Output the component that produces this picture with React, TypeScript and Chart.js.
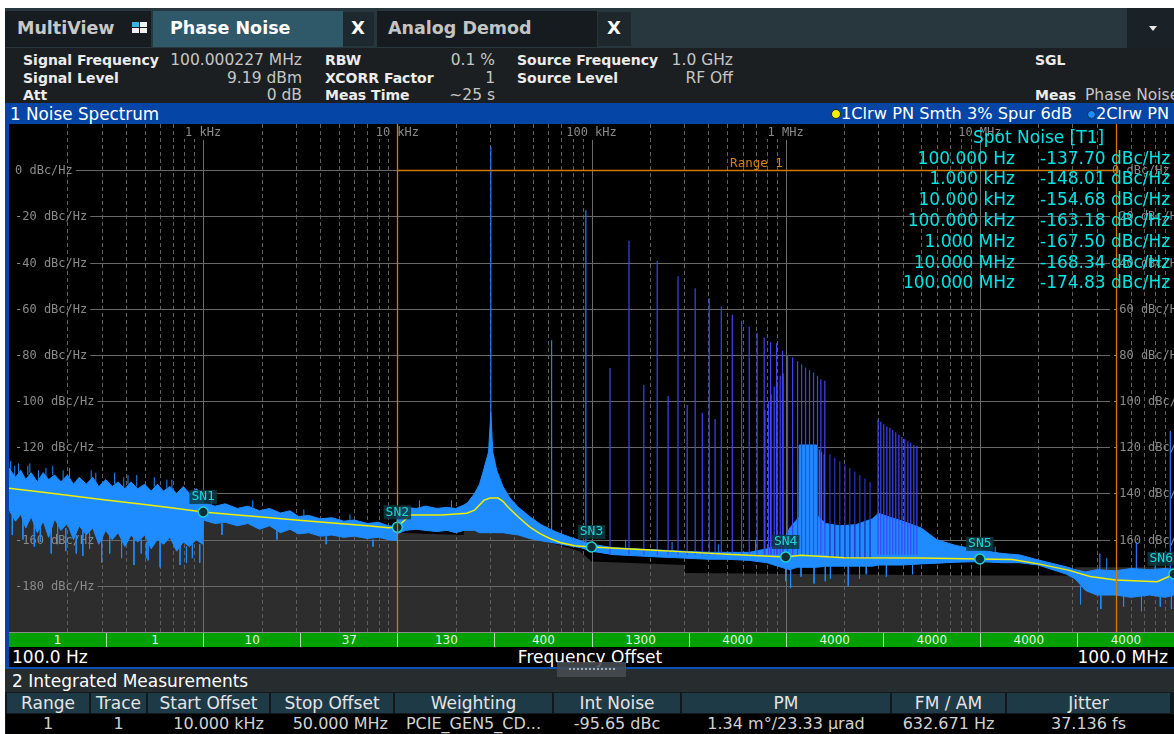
import React, { useEffect, useRef } from "react";
import { Chart, registerables } from "chart.js";
Chart.register(...registerables);

const W = 1174;
const H = 734;
const UI = '"DejaVu Sans", sans-serif';
const MONO = '"DejaVu Sans Mono", monospace';

// ---------- axes ----------
const X_MIN = 100;
const X_MAX = 1e8;
const Y_MIN = -200;
const Y_MAX = 20;
const Y_GRID = [0, -20, -40, -60, -80, -100, -120, -140, -160, -180];
const X_LABEL_F = [1e3, 1e4, 1e5, 1e6, 1e7];
const X_LABEL_T = ["1 kHz", "10 kHz", "100 kHz", "1 MHz", "10 MHz"];

// ---------- integration range ----------
const RANGE_START = 1e4;
const RANGE_STOP = 5e7;
const RANGE_LEVEL = 0;

// ---------- spot noise ----------
const SPOT_F = [1e2, 1e3, 1e4, 1e5, 1e6, 1e7, 1e8];
const SPOT_LABEL = ["100.000 Hz", "1.000 kHz", "10.000 kHz", "100.000 kHz", "1.000 MHz", "10.000 MHz", "100.000 MHz"];
const SPOT_DB = [-137.7, -148.01, -154.68, -163.18, -167.5, -168.34, -174.83];

// ---------- trace 1 (smoothed, yellow) ----------
const T1_F = [100, 150, 200, 300, 500, 700, 1000, 1500, 2000, 3000, 5000, 7000, 9000, 10000, 11600, 17000, 22800, 25000, 26500, 28000, 30000, 33000, 35000, 37000, 42000, 48000, 54000, 61000, 69000, 82000, 100000, 200000, 300000, 500000, 1000000, 1200000, 2000000, 5000000, 10000000, 14700000, 20000000, 28600000, 37000000, 50000000, 82000000, 98000000, 100000000];
const T1_DB = [-137.7, -139.5, -140.8, -142.6, -144.8, -146.3, -148.01, -149.3, -150.2, -151.5, -153.0, -154.0, -154.9, -154.68, -149.3, -149.3, -148.6, -147.2, -145.0, -142.9, -142.0, -142.0, -143.4, -145.8, -150.2, -154.5, -157.3, -159.5, -161.2, -162.6, -163.18, -164.5, -165.3, -166.3, -167.5, -166.8, -167.8, -168.0, -168.34, -168.6, -170.5, -173.2, -176.0, -177.5, -178.2, -175.3, -174.83];

// ---------- trace 2 (raw, blue) envelope ----------
const NOISE_F = [100, 108, 115, 122, 130, 140, 150, 160, 172, 185, 200, 215, 230, 250, 270, 290, 315, 340, 365, 395, 425, 460, 500, 540, 580, 625, 675, 730, 790, 850, 920, 995, 1000, 1150, 1300, 1500, 1700, 1950, 2200, 2500, 2800, 3100, 3500, 4000, 4600, 5300, 6000, 7000, 8000, 9000, 9950, 10000, 11000, 12500, 14000, 16000, 18000, 20000, 22000, 23000, 25000, 26500, 28000, 29500, 30300, 31000, 32500, 35000, 38000, 42000, 48000, 55000, 65000, 75000, 88000, 100000, 130000, 170000, 220000, 300000, 400000, 500000, 650000, 800000, 950000, 1050000, 1150000, 1170000, 1175000, 1440000, 1450000, 1600000, 1900000, 2300000, 2800000, 3000000, 3500000, 4000000, 5000000, 6000000, 7500000, 10000000, 13000000, 16000000, 20000000, 28000000, 31000000, 35000000, 40000000, 50000000, 60000000, 75000000, 90000000, 100000000];
const NOISE_HI = [-129, -133, -130, -134, -131, -135, -131, -134, -132, -135, -132, -136, -133, -136, -133, -137, -134, -137, -135, -138, -135, -138, -136, -139, -136, -139, -137, -140, -137, -140, -138, -140, -144, -145.5, -144.5, -146.5, -145.5, -147.5, -146.5, -148.5, -147.5, -150, -149.5, -151, -150.5, -152, -151.5, -153, -152.5, -154, -154.5, -147.5, -146, -146.5, -145.5, -146.5, -146, -146.5, -145, -144, -140, -136, -129, -122, -105, -122, -130, -137, -142, -146, -150, -153.5, -156.5, -158.5, -160.5, -162, -163.5, -164, -164.5, -165, -165.5, -165.5, -165.5, -164, -162, -155, -151, -150, -119, -119, -149.5, -153, -154, -153.5, -151, -148.6, -150.5, -152, -155, -160, -162.5, -164.5, -166, -166.6, -168.8, -171.8, -173, -174, -173, -173.5, -172.5, -173, -172.5, -173];
const NOISE_LO = [-147, -152, -149, -155, -150, -157, -152, -159, -151, -156, -153, -160, -154, -158, -155, -162, -156, -160, -157, -163, -158, -161, -158, -164, -160, -162, -159, -165, -161, -163, -160, -162, -151.5, -153, -152.5, -154, -153, -155.5, -154, -157, -155.5, -157.5, -157, -158.5, -158, -159, -158.5, -159.5, -159, -160, -160.5, -157.5, -156, -155.5, -156, -156.5, -156, -157, -156, -156, -156, -157, -157, -157, -157, -157, -157, -157, -157.5, -158, -159.5, -160.5, -161.5, -162.5, -163.5, -165, -166.5, -167, -167.5, -168, -168.5, -168.5, -169, -170, -172, -173, -172, -172, -172, -172, -172, -171.5, -171.5, -171.5, -171.5, -171, -171, -171, -170.5, -170.2, -169.8, -169.5, -170, -170, -171, -175, -177, -182, -184, -184, -185, -184, -185, -184];

// short noise excursions of trace 2 (start level, end level)
const GRASS_F = [102, 104, 107, 112, 118, 125, 128, 135, 142, 145, 155, 165, 168, 178, 190, 196, 205, 222, 240, 260, 265, 280, 300, 330, 350, 380, 390, 410, 440, 455, 480, 510, 520, 560, 600, 650, 690, 760, 820, 880, 960, 1100, 1250, 1800, 2400, 3300, 4300, 5700, 7500, 13000, 19000, 150000, 260000, 450000, 700000, 1.0e6, 1.06e6, 1.2e6, 1.4e6, 1.6e6, 1.7e6, 2.1e6, 2.4e6, 2.6e6, 3.3e6, 4.5e6, 1.2e7, 3.3e7, 4.2e7, 4.5e7, 5.5e7, 6.8e7, 8.0e7, 8.5e7, 9.7e7];
const GRASS_A = [-131, -148, -133, -132, -150, -132, -131, -152, -135, -153, -133, -155, -132, -152, -134, -155, -133, -158, -156, -157, -134, -135, -158, -158, -136, -159, -138, -136, -159, -137, -160, -161, -160, -137, -161, -138, -138, -162, -163, -162, -162, -145, -153, -146, -156, -150, -158.5, -152, -160, -146, -146, -164, -165, -165.5, -165.5, -170, -172, -171, -171, -171.5, -171, -171, -171.5, -170, -170, -171, -166, -180, -183, -173, -183, -184, -173, -184, -184];
const GRASS_B = [-126, -158, -128, -127, -160, -128, -127, -163, -130, -161, -129, -166, -128, -162, -130, -165, -129, -166, -167, -164, -130, -131, -170, -166, -131, -168, -133, -132, -171, -132, -166, -168, -169, -133, -172, -134, -134, -171, -170, -168, -170, -142, -158, -143, -160, -147, -162, -149, -163, -143, -143, -160, -161, -162, -160, -178, -181, -176, -179, -178, -177, -180, -177, -175, -176, -175, -163, -188, -190, -168, -189, -191, -169, -189, -190];

// spurs (violet, trace 1 spur display)
const PURPLE_BASE = -166.5;
const PURPLE_F = [124500, 156000, 186000, 218000, 248000, 279000, 311000, 342000, 372000, 404000, 433000, 466000, 531000, 593000, 649000, 713000, 775000, 782000, 817000, 836000, 842000, 873000, 898000, 904000, 937000, 964000, 971000, 1023000, 1086000, 1152000, 1208000, 1266000, 1327000, 1392000, 1459000, 1518000, 1591000, 2990000, 3090000, 3200000, 3320000, 3440000, 3560000, 3690000, 3830000, 3970000, 4110000, 4260000, 4410000, 4570000, 4740000];
const PURPLE_TOP = [-85.7, -30.6, -93, -39.2, -97.8, -45.9, -101.7, -51.1, -105, -55.5, -107.8, -59, -62.6, -65.2, -67.8, -70.6, -72.6, -104, -100, -74.5, -97, -93.7, -75, -91.3, -89, -78.2, -88, -80, -81, -82.8, -84, -85.4, -86.6, -87.6, -89, -90.5, -91.2, -108, -109, -110, -111, -111.5, -112.5, -113.5, -114.5, -115.5, -116.5, -117.5, -118, -119, -119.5];

// spurs (dark navy, 1.7–2.7 MHz)
const DARK_BASE = -168;
const DARK_F = [1690000, 1790000, 1900000, 2020000, 2140000, 2270000, 2410000, 2560000, 2720000];
const DARK_TOP = [-123, -124.5, -126, -127.5, -129, -130.5, -132, -133.5, -135];

// spurs (blue, trace 2)
const BLUE_SPUR_F = [30300, 62300, 93500, 1490000, 1530000, 1580000, 41500000, 64000000, 95700000];
const BLUE_SPUR_TOP = [10, -73.6, -17.3, -121, -122, -123, -166, -161, -113];
const BLUE_SPUR_BASE = [-150, -158, -162, -160, -160, -160, -176, -176, -176];

// correlation floor (grey area)
const FLOOR_F = [100, 1000, 3100, 9900, 10000, 21800, 22000, 30000, 60000, 87000, 100000, 300000, 303000, 10000000, 30000000, 31000000, 100000000];
const FLOOR_DB = [-146, -150.5, -154.5, -159, -157, -158, -154.5, -155.5, -161, -165, -169.5, -171, -174.5, -175.5, -175.5, -172, -172];

// averages per half decade
const AVG_LABELS = ["1", "1", "10", "37", "130", "400", "1300", "4000", "4000", "4000", "4000", "4000"];

// integrated measurement table
const TABLE_COLS = [6, 90, 147, 270, 394, 553, 681, 891, 1006, 1171];
const TABLE_HEAD = ["Range", "Trace", "Start Offset", "Stop Offset", "Weighting", "Int Noise", "PM", "FM / AM", "Jitter"];
const TABLE_ROW = ["1", "1", "10.000 kHz", "50.000 MHz", "PCIE_GEN5_CD...", "-95.65 dBc", "1.34 m\u00b0/23.33 \u00b5rad", "632.671 Hz", "37.136 fs"];
const TABLE_ALIGN = ["c", "c", "r", "r", "c", "c", "c", "c", "c"];

const pts = (fs: number[], vs: number[]) => fs.map((f, i) => ({ x: f, y: vs[i] }));
const segs = (fs: number[], a: number[], b: number[]) =>
  fs.flatMap((f, i) => [{ x: f, y: a[i] }, { x: f, y: b[i] }, { x: f, y: null as any }]);

const NOISE_BLUE = "#1e8cff";
const SN_INDEX = 9;

const gridPlugin = {
  id: "pnGrid",
  afterDatasetDraw(chart: any, args: any) {
    if (args.index !== 0) return;
    const { ctx, chartArea: ca, scales } = chart;
    const xs = scales.x;
    const ys = scales.y;
    ctx.save();
    ctx.beginPath();
    ctx.rect(ca.left, ca.top, ca.right - ca.left, ca.bottom - ca.top);
    ctx.clip();
    ctx.lineWidth = 1;
    ctx.strokeStyle = "#5f5f5f";
    ctx.setLineDash([4, 3]);
    for (let d = 2; d < 8; d++) {
      for (let m = 2; m <= 9; m++) {
        const px = Math.round(xs.getPixelForValue(m * Math.pow(10, d))) + 0.5;
        ctx.beginPath();
        ctx.moveTo(px, ca.top);
        ctx.lineTo(px, ca.bottom);
        ctx.stroke();
      }
    }
    ctx.setLineDash([]);
    ctx.font = "12px " + MONO;
    ctx.textBaseline = "middle";
    ctx.textAlign = "center";
    X_LABEL_F.forEach((f, i) => {
      const px = xs.getPixelForValue(f);
      const w = ctx.measureText(X_LABEL_T[i]).width;
      ctx.fillStyle = "#000";
      ctx.fillRect(px - w / 2 - 1, ca.top, w + 2, 15);
      ctx.fillStyle = "#8a8a8a";
      ctx.fillText(X_LABEL_T[i], px, ca.top + 9);
    });
    ctx.strokeStyle = "#6c6c6c";
    for (let d = 3; d < 8; d++) {
      const px = Math.round(xs.getPixelForValue(Math.pow(10, d))) + 0.5;
      ctx.beginPath();
      ctx.moveTo(px, ca.top + 16);
      ctx.lineTo(px, ca.bottom);
      ctx.stroke();
    }
    ctx.textAlign = "left";
    const rightX = ca.left + 1103;
    Y_GRID.forEach((v) => {
      const py = Math.round(ys.getPixelForValue(v)) + 0.5;
      const t = `${v} dBc/Hz`;
      const w = ctx.measureText(t).width;
      ctx.fillStyle = "#8a8a8a";
      ctx.fillText(t, ca.left + 6, py);
      ctx.fillText(`${v} dBc/Hz`, rightX, py);
      ctx.strokeStyle = "#686868";
      ctx.beginPath();
      ctx.moveTo(ca.left + 6 + w + 3, py);
      ctx.lineTo(rightX - 2, py);
      ctx.stroke();
    });
    ctx.restore();
  },
};

const overlayPlugin = {
  id: "pnOverlay",
  afterDatasetsDraw(chart: any) {
    const { ctx, chartArea: ca, scales } = chart;
    const xs = scales.x;
    const ys = scales.y;
    ctx.save();
    ctx.beginPath();
    ctx.rect(ca.left, ca.top, ca.right - ca.left, ca.bottom - ca.top);
    ctx.clip();
    // integration range
    const x1 = Math.round(xs.getPixelForValue(RANGE_START)) + 0.5;
    const x2 = Math.round(xs.getPixelForValue(RANGE_STOP)) + 0.5;
    const py = Math.round(ys.getPixelForValue(RANGE_LEVEL)) + 0.5;
    ctx.strokeStyle = "#d27a00";
    ctx.lineWidth = 1.3;
    ctx.beginPath();
    ctx.moveTo(x1, ca.top);
    ctx.lineTo(x1, ca.bottom);
    ctx.moveTo(x2, ca.top);
    ctx.lineTo(x2, ca.bottom);
    ctx.moveTo(x1, py);
    ctx.lineTo(x2, py);
    ctx.stroke();
    ctx.font = "12.5px " + MONO;
    ctx.textAlign = "center";
    ctx.textBaseline = "middle";
    ctx.fillStyle = "#d9820a";
    ctx.fillText("Range 1", xs.getPixelForValue(Math.sqrt(RANGE_START * RANGE_STOP)), py - 7);
    // spot noise marker labels
    const meta = chart.getDatasetMeta(SN_INDEX);
    ctx.font = "13px " + MONO;
    meta.data.forEach((p: any, i: number) => {
      const t = `SN${i + 1}`;
      const w = ctx.measureText(t).width;
      const cx = Math.min(p.x, ca.right - w / 2 - 1);
      ctx.fillStyle = "rgba(12,58,66,0.85)";
      ctx.fillRect(cx - w / 2 - 2, p.y - 22, w + 4, 14);
      ctx.fillStyle = "#1fd6d6";
      ctx.fillText(t, cx, p.y - 15);
    });
    ctx.restore();
  },
};

type TP = {
  x: number;
  y: number;
  s: number;
  c?: string;
  b?: boolean;
  a?: "l" | "r" | "c";
  f?: string;
  children: React.ReactNode;
};
function T({ x, y, s, c = "#fff", b = false, a = "l", f = UI, children }: TP) {
  const st: React.CSSProperties = {
    position: "absolute",
    top: y - 12,
    height: 24,
    lineHeight: "24px",
    fontSize: s,
    fontFamily: f,
    fontWeight: b ? 700 : 400,
    color: c,
    whiteSpace: "nowrap",
  };
  if (a === "l") st.left = x;
  else if (a === "r") st.right = W - x;
  else {
    st.left = x - 300;
    st.width = 600;
    st.textAlign = "center";
  }
  return <div style={st}>{children}</div>;
}

function Box({ x, y, w, h, bg, children }: { x: number; y: number; w: number; h: number; bg: string; children?: React.ReactNode }) {
  return <div style={{ position: "absolute", left: x, top: y, width: w, height: h, background: bg }}>{children}</div>;
}

export default function App() {
  const ref = useRef<HTMLCanvasElement>(null);
  useEffect(() => {
    const chart = new Chart(ref.current as HTMLCanvasElement, {
      type: "line",
      data: {
        datasets: [
          { label: "floor", data: pts(FLOOR_F, FLOOR_DB), borderColor: "rgba(0,0,0,0)", borderWidth: 0, backgroundColor: "#2d2d2d", fill: "start", pointRadius: 0, order: 10 } as any,
          { label: "spurs2", data: segs(BLUE_SPUR_F, BLUE_SPUR_BASE, BLUE_SPUR_TOP), borderColor: "#2a78ff", borderWidth: 1.2, fill: false, pointRadius: 0, spanGaps: false, order: 9 },
          { label: "hi", data: pts(NOISE_F, NOISE_HI), borderColor: NOISE_BLUE, borderWidth: 1, backgroundColor: NOISE_BLUE, fill: "+1", pointRadius: 0, order: 7 },
          { label: "lo", data: pts(NOISE_F, NOISE_LO), borderColor: NOISE_BLUE, borderWidth: 1, fill: false, pointRadius: 0, order: 7 },
          { label: "spurs1", data: segs(PURPLE_F, PURPLE_F.map(() => PURPLE_BASE), PURPLE_TOP), borderColor: "#3f44f6", borderWidth: 1.2, fill: false, pointRadius: 0, spanGaps: false, order: 6.6 },
          { label: "spursDark", data: segs(DARK_F, DARK_F.map(() => DARK_BASE), DARK_TOP), borderColor: "#2630b8", borderWidth: 1.3, fill: false, pointRadius: 0, spanGaps: false, order: 6.5 },
          { label: "grass", data: segs(GRASS_F, GRASS_A, GRASS_B), borderColor: NOISE_BLUE, borderWidth: 1, fill: false, pointRadius: 0, spanGaps: false, order: 6 },
          { label: "pad", data: [], order: 5 },
          { label: "trace1", data: pts(T1_F, T1_DB), borderColor: "#eeee00", borderWidth: 1.5, fill: false, pointRadius: 0, order: 3 },
          { label: "sn", data: pts(SPOT_F.slice(1), SPOT_DB.slice(1)), showLine: false, pointRadius: 5, pointBorderWidth: 1.5, pointBorderColor: "#22d3d3", pointBackgroundColor: "#0b2f35", order: 1 } as any,
        ],
      },
      options: {
        responsive: false,
        animation: false,
        devicePixelRatio: 1,
        events: [],
        layout: { padding: 0, autoPadding: false },
        scales: {
          x: { type: "logarithmic", min: X_MIN, max: X_MAX, display: false },
          y: { type: "linear", min: Y_MIN, max: Y_MAX, display: false },
        },
        plugins: { legend: { display: false }, tooltip: { enabled: false } },
        elements: { line: { tension: 0 } },
      },
      plugins: [gridPlugin, overlayPlugin],
    });
    return () => chart.destroy();
  }, []);

  const seg = 1165 / 12;
  return (
    <div style={{ position: "fixed", left: 0, top: 0, width: W, height: H, background: "#fff", overflow: "hidden", fontFamily: UI }}>
      {/* tab bar */}
      <Box x={5} y={8} w={1169} h={40} bg="#28363e" />
      <Box x={5} y={11} w={146} h={36} bg="#171c20" />
      <T x={17} y={28} s={17.5} b c="#c8c8c8">MultiView</T>
      <Box x={132} y={22} w={7} h={5} bg="#3ab4e6" />
      <Box x={140} y={22} w={7} h={5} bg="#f0f0f0" />
      <Box x={132} y={28} w={7} h={5} bg="#f0f0f0" />
      <Box x={140} y={28} w={7} h={5} bg="#f0f0f0" />
      <Box x={153} y={11} w={190} h={36} bg="#2f5868" />
      <T x={170} y={28} s={17.5} b>Phase Noise</T>
      <Box x={343} y={12} w={31} h={34} bg="#1d292f" />
      <T x={358} y={28} s={18} b a="c">X</T>
      <Box x={377} y={11} w={220} h={36} bg="#161b1f" />
      <T x={388} y={28} s={17.5} b c="#c4c4c4">Analog Demod</T>
      <Box x={598} y={12} w={33} h={34} bg="#1e272c" />
      <T x={614} y={28} s={18} b a="c">X</T>
      <Box x={1127} y={8} w={47} h={40} bg="#1b2227" />
      <div style={{ position: "absolute", left: 1149, top: 26, width: 0, height: 0, borderLeft: "4px solid transparent", borderRight: "4px solid transparent", borderTop: "5px solid #e8e8e8" }} />

      {/* info bar */}
      <Box x={5} y={48} w={1169} h={55} bg="#1c1f22" />
      <T x={23} y={59.5} s={14} b c="#ececec">Signal Frequency</T>
      <T x={302} y={59.5} s={15.5} a="r" c="#c6c6c6">100.000227 MHz</T>
      <T x={23} y={77.5} s={14} b c="#ececec">Signal Level</T>
      <T x={302} y={77.5} s={15.5} a="r" c="#c6c6c6">9.19 dBm</T>
      <T x={23} y={95} s={14} b c="#ececec">Att</T>
      <T x={302} y={95} s={15.5} a="r" c="#c6c6c6">0 dB</T>
      <T x={325} y={59.5} s={14} b c="#ececec">RBW</T>
      <T x={495} y={59.5} s={15.5} a="r" c="#c6c6c6">0.1 %</T>
      <T x={325} y={77.5} s={14} b c="#ececec">XCORR Factor</T>
      <T x={495} y={77.5} s={15.5} a="r" c="#c6c6c6">1</T>
      <T x={325} y={95} s={14} b c="#ececec">Meas Time</T>
      <T x={495} y={95} s={15.5} a="r" c="#c6c6c6">~25 s</T>
      <T x={517} y={59.5} s={14} b c="#ececec">Source Frequency</T>
      <T x={733} y={59.5} s={15.5} a="r" c="#c6c6c6">1.0 GHz</T>
      <T x={517} y={77.5} s={14} b c="#ececec">Source Level</T>
      <T x={733} y={77.5} s={15.5} a="r" c="#c6c6c6">RF Off</T>
      <T x={1035} y={59.5} s={14} b c="#ececec">SGL</T>
      <T x={1035} y={95} s={14} b c="#ececec">Meas</T>
      <T x={1085} y={95} s={15.5} c="#c6c6c6">Phase Noise</T>

      {/* title bar */}
      <Box x={5} y={103} w={1169} h={21} bg="#0445a5" />
      <T x={10} y={114} s={16.8}>1 Noise Spectrum</T>
      <div style={{ position: "absolute", left: 831, top: 109, width: 8, height: 8, borderRadius: 5, background: "#f2f200", border: "1px solid #222" }} />
      <T x={841} y={114} s={16.2}>1Clrw PN Smth 3% Spur 6dB</T>
      <div style={{ position: "absolute", left: 1087, top: 110, width: 7, height: 7, borderRadius: 5, background: NOISE_BLUE, border: "1px solid #0a2a5a" }} />
      <T x={1096} y={114} s={16.2}>2Clrw PN</T>

      {/* frame */}
      <Box x={5} y={124} w={4} h={545} bg="#0445a5" />
      <Box x={5} y={667} w={1169} h={2} bg="#0a52b8" />

      {/* plot */}
      <canvas ref={ref} width={1165} height={508} style={{ position: "absolute", left: 9, top: 124, width: 1165, height: 508, background: "#000" }} />

      {/* spot noise table */}
      <T x={973} y={137} s={17} c="#00e4e4">Spot Noise [T1]</T>
      {SPOT_LABEL.map((l, i) => (
        <React.Fragment key={l}>
          <T x={1015} y={157.5 + i * 20.8} s={17} a="r" c="#00e4e4">{l}</T>
          <T x={1040} y={157.5 + i * 20.8} s={17} c="#00e4e4">{`${SPOT_DB[i].toFixed(2)} dBc/Hz`}</T>
        </React.Fragment>
      ))}

      {/* averages band */}
      <div style={{ position: "absolute", left: 9, top: 632, width: 1165, height: 15, background: "#00a000", borderTop: "1px solid #8c8c8c", boxSizing: "border-box" }}>
        {AVG_LABELS.map((t, i) => (
          <div key={i} style={{ position: "absolute", left: i * seg, width: seg, top: 0, height: 14, lineHeight: "14px", textAlign: "center", fontSize: 12, fontFamily: UI, color: "#e4f6e4", borderLeft: i ? "1px solid #b4dcb4" : "none", boxSizing: "border-box" }}>{t}</div>
        ))}
      </div>

      {/* frequency row */}
      <Box x={9} y={647} w={1165} h={20} bg="#000" />
      <T x={12} y={657} s={17}>100.0 Hz</T>
      <T x={590} y={657} s={17} a="c">Frequency Offset</T>
      <T x={1168} y={657} s={17} a="r">100.0 MHz</T>

      {/* integrated measurements */}
      <Box x={5} y={669} w={1169} h={65} bg="#272c2f" />
      <div style={{ position: "absolute", left: 557, top: 662, width: 69, height: 15, background: "rgba(72,78,82,0.85)" }}>
        <div style={{ position: "absolute", left: 12, top: 6, width: 46, borderTop: "2px dotted #a4aeb4" }} />
      </div>
      <T x={12} y={681} s={17}>2 Integrated Measurements</T>
      <Box x={5} y={692} w={1169} h={42} bg="#12191d" />
      {TABLE_HEAD.map((h, i) => {
        const l = TABLE_COLS[i];
        const r = TABLE_COLS[i + 1];
        return (
          <React.Fragment key={h}>
            <Box x={l + 1} y={693} w={r - l - 2} h={20} bg="#1f3a47" />
            <T x={(l + r) / 2} y={703} s={17} a="c" c="#e4e4e4">{h}</T>
          </React.Fragment>
        );
      })}
      <Box x={6} y={714} w={1168} h={20} bg="#000" />
      {TABLE_ROW.map((v, i) => {
        const l = TABLE_COLS[i];
        const r = TABLE_COLS[i + 1];
        return TABLE_ALIGN[i] === "r" ? (
          <T key={i} x={r - 6} y={723.5} s={16} a="r" c="#d2d2d2">{v}</T>
        ) : (
          <T key={i} x={(l + r) / 2} y={723.5} s={16} a="c" c="#d2d2d2">{v}</T>
        );
      })}
    </div>
  );
}
